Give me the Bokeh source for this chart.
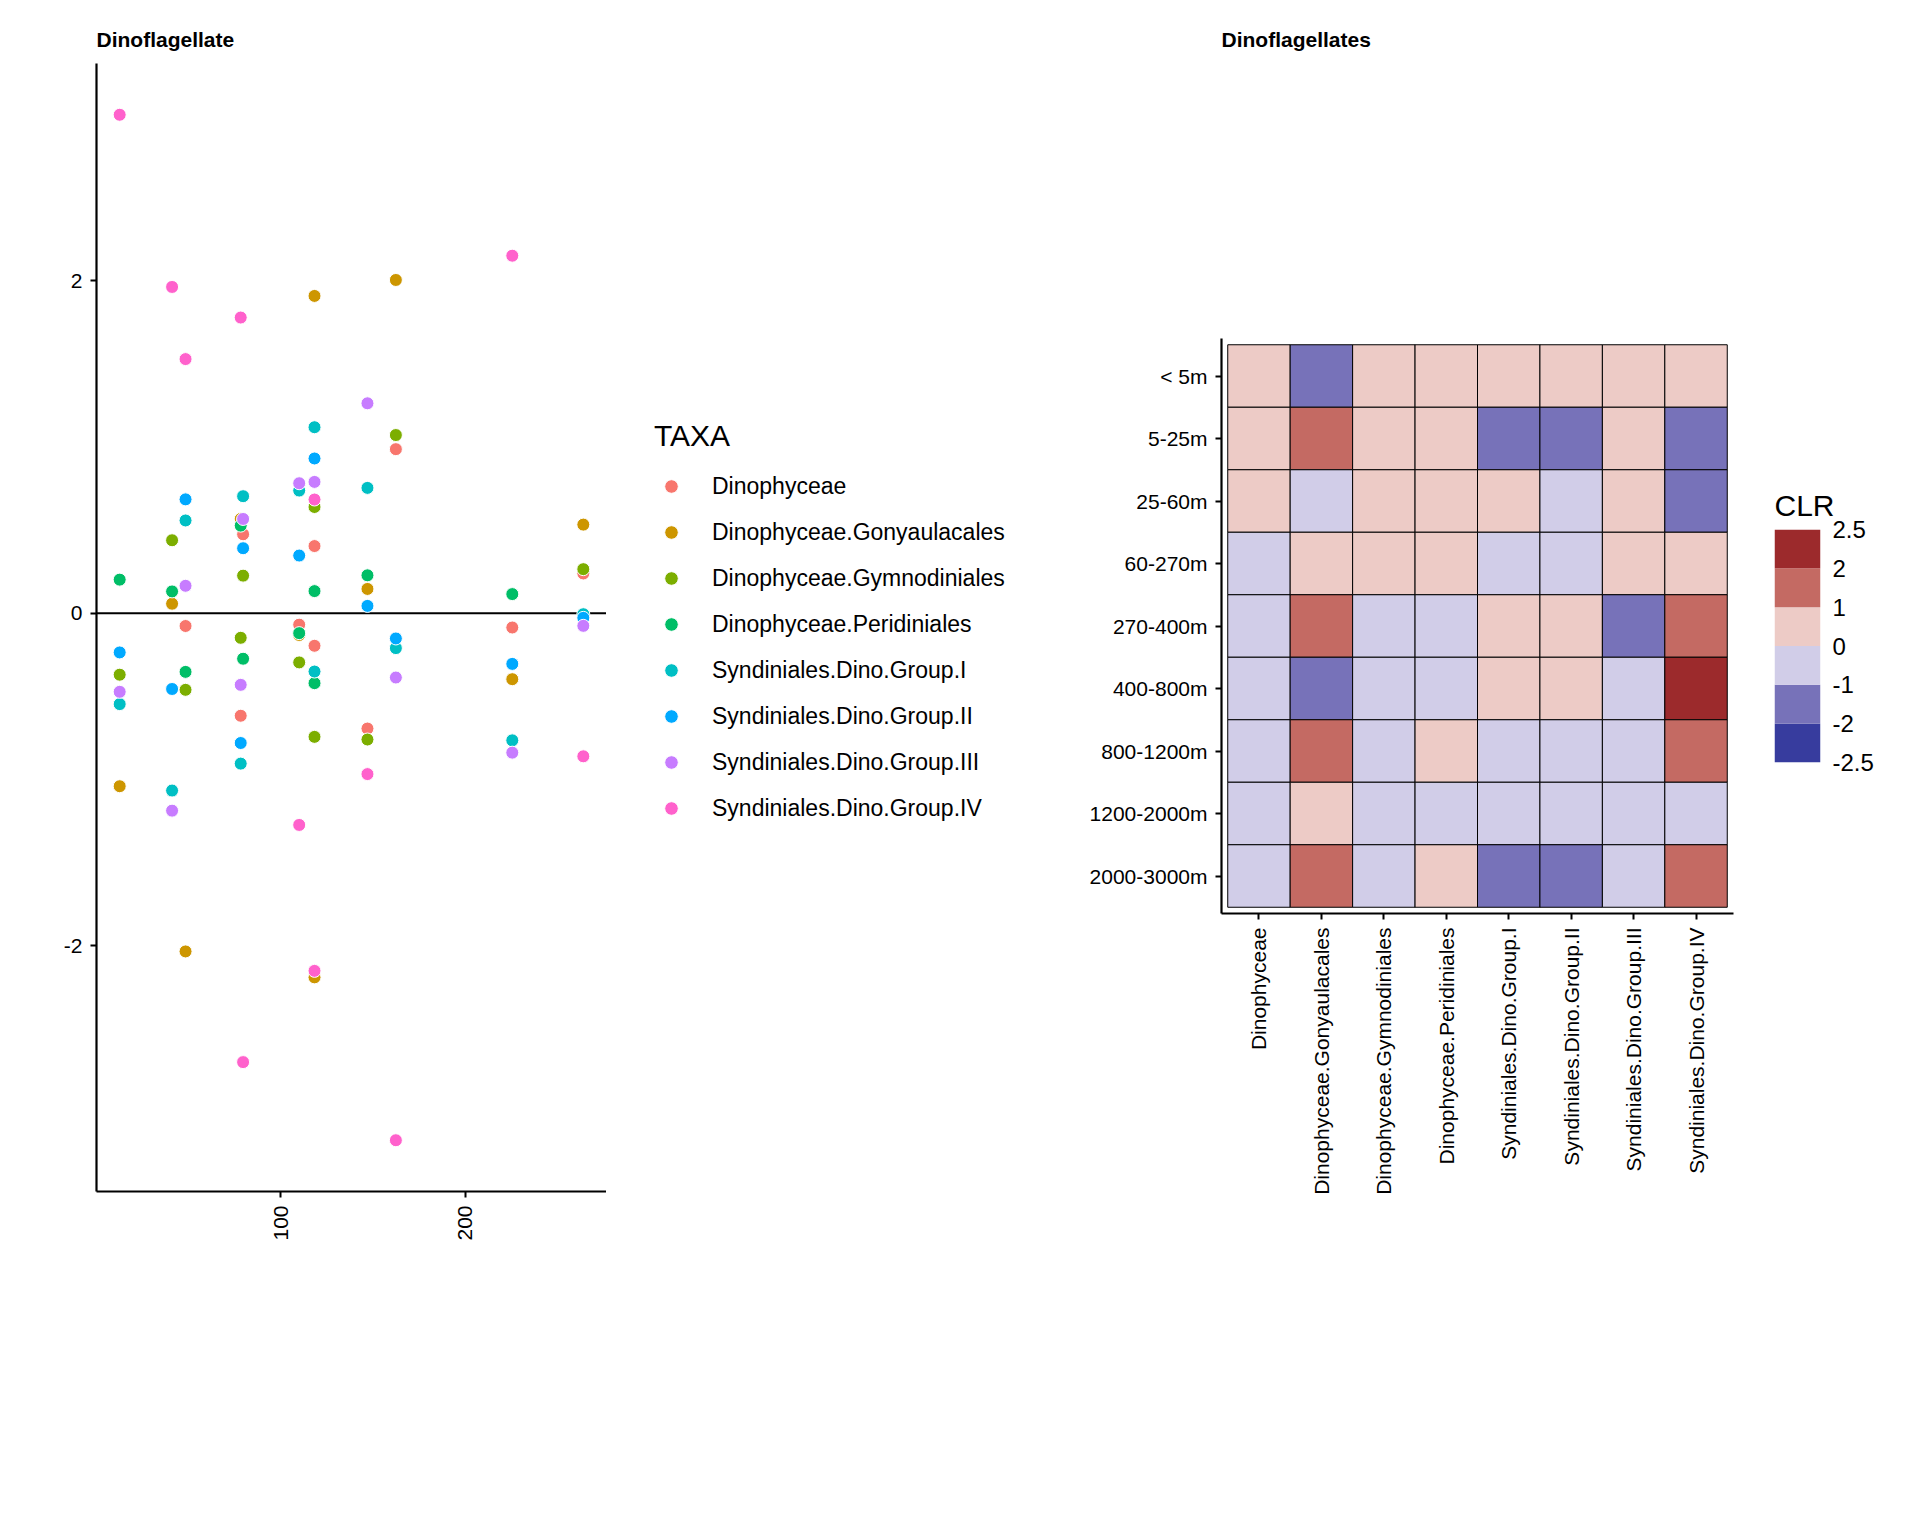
import math
from bokeh.plotting import figure
from bokeh.models import (ColumnDataSource, Span, FixedTicker, Legend, LegendItem,
                          LinearColorMapper, FactorRange, Range1d, Spacer)
from bokeh.layouts import row, column
from bokeh.embed import file_html
from bokeh.resources import INLINE

FONT = "Liberation Sans"

# ---------------- scatter data ----------------
taxa = ["Dinophyceae", "Dinophyceae.Gonyaulacales", "Dinophyceae.Gymnodiniales",
        "Dinophyceae.Peridiniales", "Syndiniales.Dino.Group.I", "Syndiniales.Dino.Group.II",
        "Syndiniales.Dino.Group.III", "Syndiniales.Dino.Group.IV"]
taxa_colors = ["#F8766D", "#CD9600", "#7CAE00", "#00BE67", "#00BFC4", "#00A9FF", "#C77CFF", "#FF61CC"]

nan = float("nan")
sample_x = [12.7, 41.1, 48.4, 78.3, 79.6, 110.0, 118.3, 118.3, 147.0, 162.4, 225.5, 264.0]
dinophyceae = [nan, nan, -0.076, -0.616, 0.476, -0.068, 0.405, -0.195, -0.693, 0.988, -0.085, 0.24]
gonyaulacales = [-1.04, 0.058, -2.034, 0.568, nan, -0.13, 1.91, -2.19, 0.147, 2.006, -0.396, 0.534]
gymnodiniales = [-0.369, 0.44, -0.46, -0.147, 0.227, -0.295, 0.64, -0.743, -0.759, 1.073, nan, 0.266]
peridiniales = [0.203, 0.132, -0.352, 0.528, -0.273, -0.119, 0.134, -0.42, 0.229, nan, 0.116, nan]
syn_group_i = [-0.546, -1.066, 0.559, -0.904, 0.705, 0.739, 1.12, -0.35, 0.755, -0.209, -0.764, -0.005]
syn_group_ii = [-0.235, -0.455, 0.686, -0.78, 0.392, 0.348, 0.932, nan, 0.045, -0.151, -0.304, -0.027]
syn_group_iii = [-0.472, -1.187, 0.166, -0.43, 0.568, 0.783, 0.791, nan, 1.264, -0.386, -0.838, -0.075]
syn_group_iv = [3.0, 1.964, 1.53, 1.78, -2.70, -1.273, 0.685, -2.151, -0.967, -3.17, 2.152, -0.86]
series = [dinophyceae, gonyaulacales, gymnodiniales, peridiniales,
          syn_group_i, syn_group_ii, syn_group_iii, syn_group_iv]
y_ticks = [-2, 0, 2]
x_ticks = [100, 200]

# ---------------- heatmap data ----------------
depths = ["< 5m", "5-25m", "25-60m", "60-270m", "270-400m", "400-800m",
          "800-1200m", "1200-2000m", "2000-3000m"]
clr_dinophyceae = [0.5, 0.5, 0.5, -0.5, -0.5, -0.5, -0.5, -0.5, -0.5]
clr_gonyaulacales = [-1.5, 1.5, -0.5, 0.5, 1.5, -1.5, 1.5, 0.5, 1.5]
clr_gymnodiniales = [0.5, 0.5, 0.5, 0.5, -0.5, -0.5, -0.5, -0.5, -0.5]
clr_peridiniales = [0.5, 0.5, 0.5, 0.5, -0.5, -0.5, 0.5, -0.5, 0.5]
clr_group_i = [0.5, -1.5, 0.5, -0.5, 0.5, 0.5, -0.5, -0.5, -1.5]
clr_group_ii = [0.5, -1.5, -0.5, -0.5, 0.5, 0.5, -0.5, -0.5, -1.5]
clr_group_iii = [0.5, 0.5, 0.5, 0.5, -1.5, -0.5, -0.5, -0.5, -0.5]
clr_group_iv = [0.5, -1.5, -1.5, 0.5, 1.5, 2.3, 1.5, -0.5, 1.5]
clr_columns = [clr_dinophyceae, clr_gonyaulacales, clr_gymnodiniales, clr_peridiniales,
               clr_group_i, clr_group_ii, clr_group_iii, clr_group_iv]
clr_breaks = [-2.5, -2, -1, 0, 1, 2, 2.5]
bin_colors = ["#373C9E", "#7772B9", "#D1CDE8", "#EDCBC6", "#C46A63", "#9C2A2C"]


def style_axis(ax, size="21px"):
    ax.axis_line_color = "black"
    ax.axis_line_width = 2.2
    ax.major_tick_line_color = "black"
    ax.major_tick_line_width = 2
    ax.major_tick_out = 6
    ax.major_tick_in = 0
    ax.minor_tick_line_color = None
    ax.major_label_text_font = FONT
    ax.major_label_text_font_size = size
    ax.major_label_text_color = "black"
    ax.major_label_standoff = 8


def style_title(t, size="21px", bold=True, standoff=25):
    t.text_font = FONT
    t.text_font_size = size
    t.text_font_style = "bold" if bold else "normal"
    t.text_color = "black"
    t.align = "left"
    t.standoff = standoff


def plain(p):
    p.outline_line_color = None
    p.grid.visible = False
    p.background_fill_color = "white"
    p.border_fill_color = "white"


# ---------------- left scatter ----------------
xmin, xmax = min(sample_x), max(sample_x)
allv = [v for s in series for v in s if v == v]
ymin, ymax = min(allv), max(allv)
xpad = 0.05 * (xmax - xmin)
ypad = 0.05 * (ymax - ymin)

p1 = figure(x_range=Range1d(xmin - xpad, xmax + xpad), y_range=Range1d(ymin - ypad, ymax + ypad),
            frame_width=510, frame_height=1128, output_backend="svg", toolbar_location=None,
            min_border_left=96, min_border_right=0, min_border_top=63, min_border_bottom=130,
            title="Dinoflagellate")
style_title(p1.title)
plain(p1)
style_axis(p1.xaxis[0])
style_axis(p1.yaxis[0])
p1.xaxis[0].ticker = FixedTicker(ticks=x_ticks)
p1.yaxis[0].ticker = FixedTicker(ticks=y_ticks)
p1.yaxis[0].major_label_overrides = {t: str(t) for t in y_ticks}
p1.xaxis[0].major_label_orientation = math.pi / 2

p1.add_layout(Span(location=0, dimension="width", line_color="black", line_width=2, level="underlay"))

src = ColumnDataSource({"x": sample_x, **{f"s{i}": s for i, s in enumerate(series)}})
for i, col in enumerate(taxa_colors):
    p1.scatter(x="x", y=f"s{i}", source=src, size=13, fill_color=col,
               line_color="white", line_width=1)

# ---------------- legend panel (own canvas, same frame rows as scatter) ----------------
p_leg = figure(x_range=Range1d(0, 1), y_range=Range1d(0, 1), frame_width=467, frame_height=1128,
               min_border_left=0, min_border_right=0, min_border_top=63, min_border_bottom=130,
               x_axis_location=None, y_axis_location=None,
               output_backend="svg", toolbar_location=None)
plain(p_leg)
# key-only source: one empty (NaN) row so each legend key has a glyph to draw
leg_src = ColumnDataSource({"x": [nan], "y": [nan]})
items = []
for name, col in zip(taxa, taxa_colors):
    r = p_leg.scatter(x="x", y="y", source=leg_src, size=13, fill_color=col,
                      line_color="white", line_width=1)
    items.append(LegendItem(label=name, renderers=[r], index=0))
legend = Legend(items=items, location=(48, 360), title="TAXA",
                title_text_font=FONT, title_text_font_size="30px", title_text_font_style="normal",
                title_text_color="black", title_standoff=10,
                label_text_font=FONT, label_text_font_size="23px", label_text_color="black",
                glyph_width=34, glyph_height=34, label_height=46, label_standoff=24,
                spacing=0, padding=0, margin=0, border_line_color=None,
                background_fill_alpha=0)
p_leg.add_layout(legend)

# ---------------- right: title holder ----------------
p_t = figure(x_range=Range1d(0, 1), y_range=Range1d(0, 1),
             frame_width=512, frame_height=213, min_border_left=148, min_border_right=163,
             min_border_top=63, min_border_bottom=0, x_axis_location=None, y_axis_location=None,
             output_backend="svg", toolbar_location=None, title="Dinoflagellates")
style_title(p_t.title)
plain(p_t)

# ---------------- heatmap ----------------
p2 = figure(x_range=FactorRange(factors=taxa, range_padding=0.1, range_padding_units="absolute"),
            y_range=FactorRange(factors=list(reversed(depths)), range_padding=0.1,
                                range_padding_units="absolute"),
            frame_width=512, frame_height=575, output_backend="svg", toolbar_location=None,
            min_border_left=148, min_border_right=37, min_border_top=62, min_border_bottom=300)
plain(p2)
style_axis(p2.xaxis[0])
style_axis(p2.yaxis[0])
p2.xaxis[0].major_label_orientation = math.pi / 2

hx, hy, hv = [], [], []
for t, colvals in zip(taxa, clr_columns):
    for d, v in zip(depths, colvals):
        hx.append(t)
        hy.append(d)
        hv.append(v)
hsrc = ColumnDataSource({"taxon": hx, "depth": hy, "clr": hv})

# binned scale: each 0.5-wide step gets the colour of the break interval it falls in
step_palette = []
k = 0
nsteps = int(round((clr_breaks[-1] - clr_breaks[0]) / 0.5))
for j in range(nsteps):
    lo = clr_breaks[0] + j * 0.5
    while not (clr_breaks[k] <= lo < clr_breaks[k + 1]):
        k += 1
    step_palette.append(bin_colors[k])
mapper = LinearColorMapper(palette=step_palette, low=clr_breaks[0], high=clr_breaks[-1])
p2.rect(x="taxon", y="depth", width=1, height=1, source=hsrc,
        fill_color={"field": "clr", "transform": mapper}, line_color="black", line_width=1)

# ---------------- binned colour legend ----------------
nb = len(bin_colors)
p_cb = figure(x_range=Range1d(0, 1), y_range=Range1d(0, nb), frame_width=46, frame_height=233,
              min_border_left=4, min_border_right=76, min_border_top=58, min_border_bottom=20,
              x_axis_location=None, y_axis_location="right", title="CLR",
              output_backend="svg", toolbar_location=None)
style_title(p_cb.title, size="30px", bold=False, standoff=16)
plain(p_cb)
cb_src = ColumnDataSource({"bottom": list(range(nb)), "top": list(range(1, nb + 1)),
                           "color": bin_colors})
p_cb.quad(left=0, right=1, bottom="bottom", top="top", fill_color="color", line_color=None,
          source=cb_src)
cax = p_cb.yaxis[0]
cax.ticker = FixedTicker(ticks=list(range(len(clr_breaks))))
cax.major_label_overrides = {i: (str(b) if b != int(b) else str(int(b)))
                             for i, b in enumerate(clr_breaks)}
cax.axis_line_color = None
cax.major_tick_line_color = None
cax.minor_tick_line_color = None
cax.major_tick_out = 0
cax.major_label_standoff = 12
cax.major_label_text_font = FONT
cax.major_label_text_font_size = "24px"
cax.major_label_text_color = "black"

right_block = column(p_t, row(p2, column(Spacer(width=126, height=195), p_cb)))
layout = row(p1, p_leg, right_block)
open("out.html", "w").write(file_html(layout, INLINE))
